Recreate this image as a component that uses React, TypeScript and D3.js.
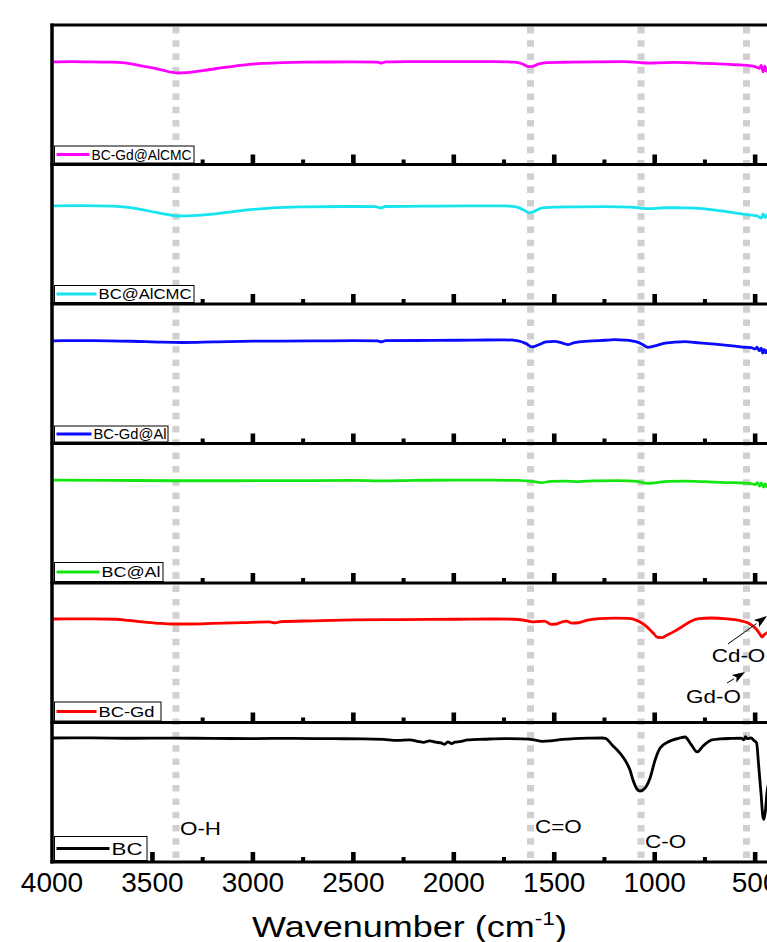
import { useRef, useEffect } from 'react';
import * as d3 from 'd3';

// spectra, top panel to bottom panel: [wavenumber cm-1, transmittance a.u.]
const seriesNames = ['BC-Gd@AlCMC', 'BC@AlCMC', 'BC-Gd@Al', 'BC@Al', 'BC-Gd', 'BC'];
const seriesColors = ['#ff00ff', '#16e4ef', '#0a0aff', '#14e614', '#ff0000', '#000000'];

const bcGdAlCmc = [
  [4000, 73.5], [3900, 73.7], [3800, 73.5], [3700, 73.4], [3650, 73.0], [3600, 72.0], [3550, 70.6],
  [3500, 69.2], [3450, 67.6], [3400, 66.0], [3370, 65.6], [3330, 65.9], [3250, 67.3], [3150, 69.4],
  [3050, 71.3], [2950, 72.5], [2850, 73.1], [2700, 73.4], [2500, 73.6], [2380, 73.4], [2360, 72.6],
  [2340, 73.5], [2200, 73.7], [2000, 73.8], [1800, 73.8], [1700, 73.4], [1660, 72.2], [1630, 70.2],
  [1610, 70.3], [1580, 72.0], [1540, 73.1], [1450, 73.3], [1300, 73.6], [1150, 73.7], [1080, 73.2],
  [1030, 72.6], [990, 72.9], [900, 73.2], [800, 72.8], [700, 72.3], [600, 71.5], [540, 71.0],
  [500, 70.2], [480, 69.0], [470, 71.0], [460, 66.5], [452, 70.5], [445, 67.0], [437, 69.5],
  [430, 66.8], [420, 68.5], [410, 67.5], [400, 68.2],
];

const bcAlCmc = [
  [4000, 70.3], [3850, 70.5], [3700, 70.2], [3620, 69.3], [3550, 67.6], [3480, 65.6], [3420, 64.0],
  [3370, 63.1], [3300, 63.3], [3200, 64.4], [3100, 66.2], [3000, 67.8], [2900, 68.9], [2750, 69.6],
  [2550, 69.9], [2390, 69.8], [2365, 68.8], [2340, 69.9], [2150, 70.1], [1950, 70.3], [1750, 70.3],
  [1690, 69.6], [1650, 67.2], [1625, 65.4], [1600, 66.4], [1560, 68.9], [1500, 69.4], [1400, 69.6],
  [1250, 69.8], [1120, 69.5], [1060, 68.6], [1010, 68.4], [950, 69.0], [850, 68.9], [750, 68.2],
  [650, 66.4], [580, 64.8], [520, 63.7], [490, 63.2], [470, 61.5], [460, 64.5], [450, 62.0],
  [440, 64.0], [430, 61.8], [415, 63.6], [400, 62.8],
];

const bcGdAl = [
  [4000, 73.6], [3800, 73.8], [3600, 73.3], [3450, 72.6], [3350, 72.4], [3200, 72.8], [3000, 73.4],
  [2700, 73.5], [2500, 73.7], [2380, 73.6], [2360, 72.9], [2340, 73.7], [2100, 73.9], [1900, 74.1],
  [1750, 74.3], [1680, 73.6], [1640, 71.6], [1610, 69.2], [1580, 70.6], [1540, 72.8], [1500, 73.2],
  [1460, 72.0], [1430, 70.9], [1400, 72.3], [1330, 73.4], [1250, 74.0], [1200, 74.4], [1150, 74.1],
  [1090, 72.8], [1060, 71.0], [1035, 69.0], [1000, 70.0], [960, 71.6], [900, 72.6], [850, 73.0],
  [800, 72.4], [700, 71.2], [600, 69.8], [550, 69.0], [520, 68.8], [500, 67.8], [490, 69.0],
  [480, 66.5], [470, 68.3], [462, 64.8], [455, 67.5], [447, 65.0], [440, 66.8], [430, 64.6],
  [420, 66.2], [400, 65.5],
];

const bcAl = [
  [4000, 73.8], [3700, 73.6], [3400, 73.3], [3100, 73.3], [2800, 73.4], [2500, 73.5], [2360, 73.2],
  [2200, 73.6], [2000, 73.7], [1800, 73.7], [1680, 73.5], [1600, 72.6], [1560, 71.9], [1520, 72.9],
  [1450, 73.0], [1380, 72.7], [1300, 73.2], [1180, 73.4], [1100, 73.0], [1060, 72.0], [1030, 71.4],
  [990, 72.0], [940, 72.8], [850, 73.0], [750, 72.6], [650, 72.0], [560, 71.7], [520, 71.3],
  [500, 70.6], [488, 72.0], [478, 69.4], [468, 71.5], [458, 68.8], [450, 71.0], [440, 69.0],
  [430, 70.8], [415, 69.3], [400, 70.0],
];

const bcGd = [
  [4000, 74.2], [3800, 74.3], [3680, 74.0], [3620, 73.2], [3550, 72.1], [3470, 71.1], [3400, 70.6],
  [3300, 70.6], [3200, 71.0], [3050, 71.6], [2920, 72.1], [2890, 71.4], [2860, 72.3], [2700, 72.9],
  [2500, 73.5], [2250, 73.8], [2000, 74.0], [1800, 74.2], [1700, 74.0], [1650, 73.3], [1610, 72.2],
  [1580, 72.4], [1550, 72.7], [1515, 70.4], [1490, 70.6], [1460, 72.2], [1440, 72.6], [1410, 71.2],
  [1380, 71.5], [1340, 73.2], [1280, 74.4], [1200, 74.8], [1130, 74.6], [1090, 73.2], [1050, 70.0],
  [1010, 64.5], [985, 61.0], [965, 60.9], [940, 62.5], [900, 65.5], [860, 69.0], [820, 72.6],
  [780, 74.5], [720, 74.9], [640, 74.3], [575, 73.0], [535, 71.4], [505, 68.5], [490, 66.3],
  [475, 63.0], [466, 61.3], [455, 63.0], [441, 64.2], [420, 65.0], [400, 65.5],
];

const bc = [
  [4000, 88.9], [3800, 89.0], [3600, 88.7], [3400, 88.8], [3200, 88.6], [3000, 88.5], [2800, 88.6],
  [2600, 88.4], [2450, 88.3], [2350, 87.9], [2280, 87.2], [2220, 87.6], [2180, 86.5], [2150, 85.8],
  [2120, 86.9], [2090, 85.9], [2060, 85.2], [2045, 84.4], [2030, 86.1], [2010, 84.9], [1995, 85.9],
  [1970, 86.3], [1930, 87.5], [1850, 88.0], [1750, 88.5], [1660, 88.3], [1600, 87.6], [1560, 86.5],
  [1520, 86.8], [1460, 87.9], [1400, 88.5], [1320, 88.8], [1260, 88.9], [1245, 88.6], [1212, 83.9],
  [1173, 78.1], [1148, 73.1], [1123, 65.9], [1108, 58.8], [1088, 52.3], [1073, 50.9], [1048, 53.0],
  [1023, 60.2], [998, 73.1], [973, 81.7], [934, 86.0], [874, 88.9], [849, 89.6], [820, 84.5],
  [789, 78.9], [759, 83.2], [715, 87.5], [675, 88.2], [620, 88.6], [570, 88.8], [556, 87.6],
  [548, 89.8], [540, 88.4], [520, 88.9], [505, 87.0], [493, 85.5], [483, 70.0], [470, 48.0],
  [462, 33.0], [456, 30.5], [448, 38.0], [441, 50.0], [420, 62.0], [400, 68.0],
];

const spectra = [bcGdAlCmc, bcAlCmc, bcGdAl, bcAl, bcGd, bc];

const majorTicks = [4000, 3500, 3000, 2500, 2000, 1500, 1000, 500];
const minorTicks = [3750, 3250, 2750, 2250, 1750, 1250, 750];
const bandLines = [3383, 1618, 1068, 543];

// band labels: [text, wavenumber, value, panel]
const bandLabels = [
  ['O-H', 3363, 19.4, 5],
  ['C=O', 1596, 20.8, 5],
  ['C-O', 1048, 10.0, 5],
  ['Cd-O', 716, 43.4, 4],
  ['Gd-O', 844, 14.0, 4],
];
// arrows: [fromWn, fromVal, toWn, toVal, panel]
const arrows = [
  [635, 56.3, 441, 76.3, 4],
  [640, 28.3, 550, 36.2, 4],
];

// legend box layout per panel
const legendLayout = [
  { w: 142, h: 17, line: 33, font: 14, textW: 100 },
  { w: 142, h: 17, line: 40, font: 14, textW: 93 },
  { w: 116, h: 16, line: 35, font: 14, textW: 73 },
  { w: 111, h: 19, line: 43, font: 15, textW: 59 },
  { w: 109, h: 19, line: 40, font: 15, textW: 56 },
  { w: 95, h: 24, line: 53, font: 17, textW: 31 },
];

const W = 767, H = 942;
const left = 52, top = 25, panelH = 139.5;
const FONT = 'Arial, "Liberation Sans", sans-serif';

function App() {
  const ref = useRef(null);

  useEffect(() => {
    const svg = d3.select(ref.current);
    svg.selectAll('*').remove();

    const x = d3.scaleLinear().domain([4000, 400]).range([left, left + 3600 * 0.2009]);
    const yScales = spectra.map((_, i) =>
      d3.scaleLinear().domain([0, 100]).range([top + (i + 1) * panelH, top + i * panelH]));
    const bottom = top + spectra.length * panelH;

    // gray dashed band markers
    svg.append('g')
      .selectAll('line')
      .data(bandLines)
      .enter()
      .append('line')
      .attr('x1', d => x(d)).attr('x2', d => x(d))
      .attr('y1', top + 2).attr('y2', bottom)
      .attr('stroke', '#d0d0d0')
      .attr('stroke-width', 7)
      .attr('stroke-dasharray', '6.5 6.8');

    // spectra
    spectra.forEach((data, i) => {
      const line = d3.line()
        .x(d => x(d[0]))
        .y(d => yScales[i](d[1]))
        .curve(d3.curveMonotoneX);
      svg.append('path')
        .attr('d', line(data))
        .attr('fill', 'none')
        .attr('stroke', seriesColors[i])
        .attr('stroke-width', 2.8)
        .attr('stroke-linejoin', 'round');
    });

    // frames
    const frame = svg.append('g');
    frame.append('line')
      .attr('x1', left).attr('x2', left)
      .attr('y1', top - 1.5).attr('y2', bottom + 1.5)
      .attr('stroke', '#000').attr('stroke-width', 3.5);
    d3.range(spectra.length + 1).forEach(i => {
      frame.append('line')
        .attr('x1', left - 1.5).attr('x2', W + 10)
        .attr('y1', top + i * panelH).attr('y2', top + i * panelH)
        .attr('stroke', '#000').attr('stroke-width', 3);
    });

    // ticks at the bottom of each panel
    d3.range(spectra.length).forEach(i => {
      const yb = top + (i + 1) * panelH;
      frame.selectAll(null)
        .data(majorTicks.filter(t => t !== 4000))
        .enter()
        .append('rect')
        .attr('x', d => x(d) - 2.3).attr('y', yb - 10)
        .attr('width', 4.6).attr('height', 10)
        .attr('fill', '#000');
      frame.selectAll(null)
        .data(minorTicks)
        .enter()
        .append('rect')
        .attr('x', d => x(d) - 2).attr('y', yb - 5)
        .attr('width', 4).attr('height', 5)
        .attr('fill', '#000');
    });

    // legends
    seriesNames.forEach((name, i) => {
      const L = legendLayout[i];
      const yb = top + (i + 1) * panelH - 1.5;
      const bx = left + 2.5;
      const g = svg.append('g');
      g.append('rect')
        .attr('x', bx).attr('y', yb - L.h)
        .attr('width', L.w - 2.5).attr('height', L.h)
        .attr('fill', '#fff').attr('stroke', '#000').attr('stroke-width', 1);
      g.append('line')
        .attr('x1', bx + 2).attr('x2', bx + 2 + L.line)
        .attr('y1', yb - L.h / 2).attr('y2', yb - L.h / 2)
        .attr('stroke', seriesColors[i]).attr('stroke-width', 2.8);
      g.append('text')
        .attr('x', bx + L.line + 4).attr('y', yb - L.h / 2)
        .attr('dy', '0.36em')
        .attr('font-family', FONT).attr('font-size', L.font)
        .attr('textLength', L.textW).attr('lengthAdjust', 'spacingAndGlyphs')
        .text(name);
    });

    // band labels
    bandLabels.forEach(([t, wn, v, p]) => {
      svg.append('text')
        .attr('transform', `translate(${x(wn)},${yScales[p](v)}) scale(1.18,1)`)
        .attr('font-family', FONT).attr('font-size', 19)
        .text(t);
    });

    // arrows
    arrows.forEach(([w0, v0, w1, v1, p]) => {
      const x0 = x(w0), y0 = yScales[p](v0), x1 = x(w1), y1 = yScales[p](v1);
      const ang = Math.atan2(y1 - y0, x1 - x0);
      const len = 13, half = 4.5;
      const bxp = x1 - len * Math.cos(ang), byp = y1 - len * Math.sin(ang);
      svg.append('line')
        .attr('x1', x0).attr('y1', y0).attr('x2', bxp).attr('y2', byp)
        .attr('stroke', '#000').attr('stroke-width', 1);
      svg.append('path')
        .attr('d', `M${x1},${y1}L${bxp - half * Math.sin(ang)},${byp + half * Math.cos(ang)}L${bxp + 3 * Math.cos(ang)},${byp + 3 * Math.sin(ang)}L${bxp + half * Math.sin(ang)},${byp - half * Math.cos(ang)}Z`)
        .attr('fill', '#000');
    });

    // x tick labels
    svg.append('g')
      .selectAll('text')
      .data(majorTicks)
      .enter()
      .append('text')
      .attr('x', d => x(d)).attr('y', bottom + 30)
      .attr('text-anchor', 'middle')
      .attr('font-family', FONT).attr('font-size', 28)
      .text(d => d);

    // axis title
    const title = svg.append('text')
      .attr('transform', `translate(${(left + W) / 2},${bottom + 75}) scale(1.2,1)`)
      .attr('text-anchor', 'middle')
      .attr('font-family', FONT).attr('font-size', 30);
    title.append('tspan').text('Wavenumber (cm');
    title.append('tspan').attr('font-size', 19).attr('dy', -12).text('-1');
    title.append('tspan').attr('dy', 12).text(')');
  }, []);

  return (
    <svg ref={ref} width={W} height={H}
      style={{ position: 'absolute', left: 0, top: 0, background: '#fff' }} />
  );
}

export default App;
